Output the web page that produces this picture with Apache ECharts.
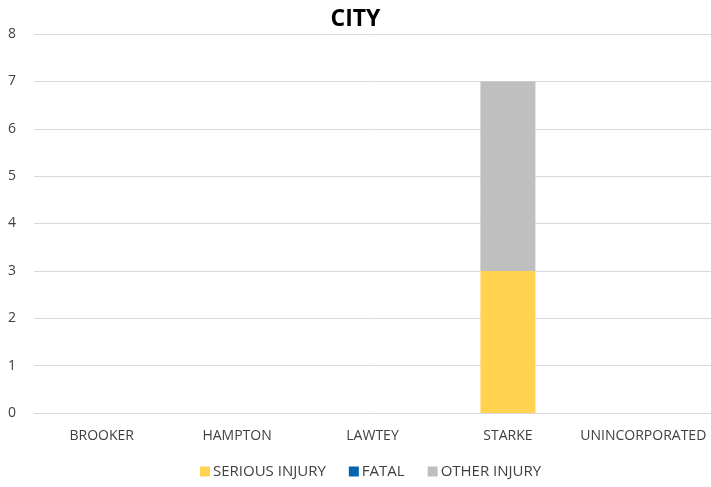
<!DOCTYPE html>
<html>
<head>
<meta charset="utf-8">
<script src="https://cdn.jsdelivr.net/npm/echarts@6/dist/echarts.min.js"></script>
<style>html,body{margin:0;padding:0;background:#fff;}#c{width:711px;height:487px;}</style>
</head>
<body>
<div id="c"></div>
<script>
const categories = ['BROOKER', 'HAMPTON', 'LAWTEY', 'STARKE', 'UNINCORPORATED'];
const seriousInjury = [0, 0, 0, 3, 0];
const fatal = [0, 0, 0, 0, 0];
const otherInjury = [0, 0, 0, 4, 0];
const yTicks = [0, 1, 2, 3, 4, 5, 6, 7, 8];

const font = '"Open Sans", "Noto Sans", sans-serif';
const chart = echarts.init(document.getElementById('c'), null, {renderer: 'canvas'});
chart.setOption({
  animation: false,
  backgroundColor: '#ffffff',
  title: {
    text: 'CITY', left: 'center', top: 3,
    textStyle: {fontFamily: font, fontSize: 23, fontWeight: 'bold', color: '#000'}
  },
  legend: {
    left: 200, top: 464, itemWidth: 10, itemHeight: 10, itemGap: 23,
    icon: 'rect', padding: 0,
    textStyle: {fontFamily: font, fontSize: 15, color: '#404040', padding: [0, 0, 0, -2]}
  },
  grid: {left: 34, width: 682, top: 34, bottom: 74, containLabel: false},
  xAxis: {
    type: 'category', data: categories,
    axisTick: {show: false},
    axisLine: {lineStyle: {color: '#D9D9D9', width: 1}},
    axisLabel: {fontFamily: font, fontSize: 14, color: '#404040', margin: 16, interval: 0}
  },
  yAxis: {
    type: 'value', min: yTicks[0], max: yTicks[yTicks.length - 1], interval: 1,
    axisLine: {show: false}, axisTick: {show: false},
    splitLine: {lineStyle: {color: '#D9D9D9', width: 1}},
    axisLabel: {fontFamily: font, fontSize: 14, color: '#404040', margin: 18}
  },
  series: [
    {name: 'SERIOUS INJURY', type: 'bar', stack: 'a', data: seriousInjury, barWidth: 55, itemStyle: {color: '#FFD34F'}},
    {name: 'FATAL', type: 'bar', stack: 'a', data: fatal, barWidth: 55, itemStyle: {color: '#0563B0'}},
    {name: 'OTHER INJURY', type: 'bar', stack: 'a', data: otherInjury, barWidth: 55, itemStyle: {color: '#BFBFBF'}}
  ]
});
</script>
</body>
</html>
